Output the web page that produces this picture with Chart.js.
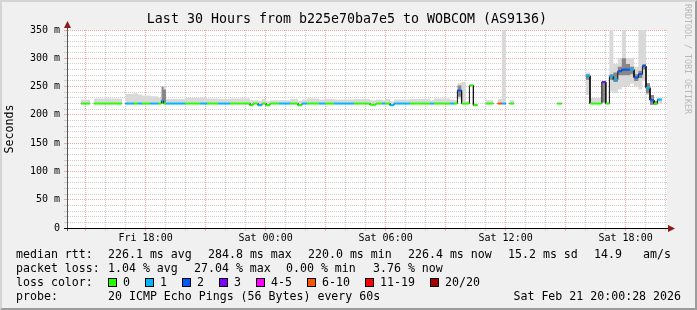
<!DOCTYPE html>
<html><head><meta charset="utf-8">
<script src="https://cdn.jsdelivr.net/npm/chart.js@4/dist/chart.umd.min.js"></script>
<style>
html,body{margin:0;padding:0;background:#f0f0f0;}
#wrap{position:relative;width:697px;height:310px;overflow:hidden;background:#f0f0f0;font-family:'DejaVu Sans Mono',monospace;color:#000;}
#c{position:absolute;left:0;top:0;}
.t{position:absolute;white-space:pre;font-size:11.6px;line-height:14px;}
.title{position:absolute;top:11px;left:347px;transform:translateX(-50%);white-space:pre;font-size:13.3px;line-height:16px;}
.box{position:absolute;width:7px;height:7px;border:1px solid #000;top:278px;}
.wm{position:absolute;left:683px;top:4px;writing-mode:vertical-rl;font-size:8.3px;line-height:10px;color:#b8b8b8;white-space:pre;}
.frame{position:absolute;left:0;top:0;width:697px;height:310px;box-sizing:border-box;border-style:solid;border-width:2px;border-color:#d4d4d4 #9c9c9c #9c9c9c #d4d4d4;pointer-events:none;}
</style></head>
<body>
<div id="wrap">
<canvas id="c" width="697" height="310" style="width:697px;height:310px"></canvas>
<div class="title">Last 30 Hours from b225e70ba7e5 to WOBCOM (AS9136)</div>
<div class="wm">RRDTOOL / TOBI OETIKER</div>
<div id="legend"></div>
<div class="frame"></div>
</div>
<script>
// ---- data ----
// time axis in hours (Fri 00:00 = 0); window: Fri 14:04 .. Sat 20:04
const xMin = 14.07, xMax = 44.07;
const xLabelHours = [18, 24, 30, 36, 42];
const xTickLabels = ['Fri 18:00', 'Sat 00:00', 'Sat 06:00', 'Sat 12:00', 'Sat 18:00'];
const yLabelValues = [0, 50, 100, 150, 200, 250, 300, 350];
const yTickLabels = ['0', '50 m', '100 m', '150 m', '200 m', '250 m', '300 m', '350 m'];

const segStart = [14.77,15.41,16.99,17.41,17.61,17.82,18.24,18.61,18.79,18.89,19.02,19.97,20.72,21.07,21.62,22.22,23.22,23.37,23.62,23.82,24.02,24.22,24.67,25.22,25.62,25.82,26.07,26.67,26.97,27.42,28.42,29.22,29.52,29.82,29.97,30.22,30.42,31.22,32.22,32.42,33.22,33.42,33.59,33.80,34.02,34.19,34.39,35.01,35.60,35.81,36.19,38.57,40.01,40.22,40.81,41.01,41.19,41.39,41.61,41.81,42.02,42.22,42.42,42.64,42.84,43.02,43.22,43.42,43.59];
const segEnd   = [15.22,16.82,17.41,17.61,17.82,18.24,18.61,18.79,18.89,19.02,19.97,20.72,21.07,21.62,22.22,23.22,23.37,23.62,23.82,24.02,24.22,24.67,25.22,25.62,25.82,26.07,26.67,26.97,27.42,28.42,29.22,29.52,29.82,29.97,30.22,30.42,31.22,32.22,32.42,33.22,33.42,33.59,33.80,34.02,34.19,34.39,34.60,35.39,35.81,36.01,36.42,38.81,40.22,40.81,41.01,41.19,41.39,41.61,41.81,42.02,42.22,42.42,42.64,42.84,43.02,43.22,43.42,43.59,43.82];
const medianMs = [220,220,220,220,220,220,220,220,225,220,220,220,220,220,220,220,217,220,217,220,217,220,220,220,217,220,220,220,220,220,220,218,220,220,220,217,220,220,220,220,220,220,243,220,220,252,217,220,220,220,220,220,269,220,258,220,268,262,277,280,280,280,266,272,286,248,226,220,227];
const lossIdx  = [0,0,1,0,1,0,1,0,1,0,1,0,1,0,1,0,0,0,1,0,0,0,1,0,0,1,0,1,0,1,0,0,0,1,0,1,1,0,1,0,1,0,2,0,0,0,0,0,5,1,0,0,1,0,3,0,1,1,2,2,2,1,2,2,2,1,2,0,1];
const smokeLo  = [220,220,220,220,220,220,220,220,222,220,220,220,220,220,220,220,217,220,217,220,217,220,220,220,217,220,220,220,220,220,220,218,220,220,220,217,220,220,220,220,220,220,228,222,220,250,217,220,220,220,220,220,235,220,222,220,241,238,245,250,250,255,250,245,260,235,218,218,220];
const smokeHi  = [227,229,237,238,236,234,233,230,250,250,228,230,231,229,228,229,226,226,225,228,224,226,226,228,225,227,229,227,228,227,228,226,227,226,228,224,227,228,226,229,227,226,256,258,224,253,222,226,228,352,226,221,275,230,258,222,352,290,300,352,300,300,285,352,352,256,235,224,230];
const darkLo   = [null,null,null,null,null,null,null,null,222,221,null,null,null,null,null,null,null,null,null,null,null,null,null,null,null,null,null,null,null,null,null,null,null,null,null,null,null,null,null,null,null,null,232,null,null,null,null,null,null,null,null,null,262,null,222,null,262,258,270,270,270,272,260,265,280,238,218,218,null];
const darkHi   = [null,null,null,null,null,null,null,null,250,245,null,null,null,null,null,null,null,null,null,null,null,null,null,null,null,null,null,null,null,null,null,null,null,null,null,null,null,null,null,null,null,null,252,null,null,null,null,null,null,null,null,null,272,null,258,null,272,275,285,300,290,285,272,278,290,256,235,224,null];

const lossColors = ['#26ff00','#00b8ff','#0059ff','#7e00ff','#ff00ff','#ff5500','#ff0000','#a00000'];
const lossLabels = ['0','1','2','3','4-5','6-10','11-19','20/20'];

// ---- helpers ----
function buildPoints(vals) {
  const pts = [];
  for (let i = 0; i < segStart.length; i++) {
    if (i > 0 && segStart[i] !== segEnd[i - 1]) pts.push({x: (segEnd[i - 1] + segStart[i]) / 2, y: null});
    const v = vals[i];
    if (v == null) { pts.push({x: (segStart[i] + segEnd[i]) / 2, y: null}); continue; }
    pts.push({x: segStart[i], y: v, c: lossIdx[i]});
    pts.push({x: segEnd[i], y: v, c: lossIdx[i]});
  }
  return pts;
}
const hourTicks = [];
for (let h = Math.ceil(xMin); h <= Math.floor(xMax); h++) hourTicks.push(h);
const yGrid = [];
for (let v = 0; v <= 350; v += 10) yGrid.push(v);

const FONT = "'DejaVu Sans Mono', monospace";
const MAJOR = '#eea8a8', MINOR = '#cfcfcf';
const clear = 'rgba(0,0,0,0)';

const deco = {
  id: 'deco',
  beforeDraw(chart) {
    const {ctx, chartArea: a} = chart;
    ctx.save(); ctx.fillStyle = '#fff';
    ctx.fillRect(a.left, a.top, a.right - a.left, a.bottom - a.top);
    ctx.restore();
  },
  afterDraw(chart) {
    const {ctx, chartArea: a} = chart;
    ctx.save();
    ctx.lineWidth = 1;
    ctx.strokeStyle = '#555';
    ctx.beginPath(); ctx.moveTo(Math.round(a.left) + 0.5, a.bottom + 3); ctx.lineTo(Math.round(a.left) + 0.5, a.top - 5); ctx.stroke();
    ctx.strokeStyle = '#000';
    ctx.beginPath(); ctx.moveTo(a.left - 3, Math.round(a.bottom) + 0.5); ctx.lineTo(a.right + 5, Math.round(a.bottom) + 0.5); ctx.stroke();
    ctx.fillStyle = '#8b1a1a';
    const lx = Math.round(a.left) + 0.5, ty = a.top - 9;
    ctx.beginPath(); ctx.moveTo(lx, ty); ctx.lineTo(lx - 3.5, ty + 7); ctx.lineTo(lx + 3.5, ty + 7); ctx.closePath(); ctx.fill();
    const by = Math.round(a.bottom) + 0.5, rx = a.right + 8;
    ctx.beginPath(); ctx.moveTo(rx, by); ctx.lineTo(rx - 7, by - 3.5); ctx.lineTo(rx - 7, by + 3.5); ctx.closePath(); ctx.fill();
    ctx.restore();
  }
};

const lineBase = {pointRadius: 0, pointHoverRadius: 0, spanGaps: false, tension: 0};

new Chart(document.getElementById('c'), {
  type: 'line',
  data: {
    datasets: [
      Object.assign({}, lineBase, {
        data: buildPoints(medianMs), borderWidth: 2, borderColor: lossColors[0], borderCapStyle: 'butt', fill: false, order: 0,
        segment: {
          borderColor: ctx => {
            if (Math.abs(ctx.p0.x - ctx.p1.x) < 0.01) return clear;
            const d = ctx.chart.data.datasets[ctx.datasetIndex].data[ctx.p0DataIndex];
            return lossColors[d.c];
          }
        }
      }),
      Object.assign({}, lineBase, {data: buildPoints(medianMs), borderWidth: 1, borderColor: '#111', fill: false, order: 1}),
      Object.assign({}, lineBase, {data: buildPoints(darkLo), borderWidth: 1, borderColor: clear, fill: false, order: 2}),
      Object.assign({}, lineBase, {data: buildPoints(darkHi), borderWidth: 1, borderColor: clear, fill: '-1', backgroundColor: '#888888', order: 2}),
      Object.assign({}, lineBase, {data: buildPoints(smokeLo), borderWidth: 1, borderColor: clear, fill: false, order: 3}),
      Object.assign({}, lineBase, {data: buildPoints(smokeHi), borderWidth: 1, borderColor: clear, fill: '-1', backgroundColor: '#d9d9d9', order: 3})
    ]
  },
  options: {
    responsive: false, animation: false, devicePixelRatio: 1,
    layout: {padding: {left: 0, right: 30, top: 30, bottom: 62}},
    plugins: {legend: {display: false}, tooltip: {enabled: false}, title: {display: false}},
    scales: {
      x: {
        type: 'linear', min: xMin, max: xMax,
        afterBuildTicks: s => { s.ticks = hourTicks.map(v => ({value: v})); },
        afterFit: s => { s.height = 20; },
        ticks: {
          autoSkip: false, maxRotation: 0, minRotation: 0, padding: 1, color: '#000',
          font: {family: FONT, size: 10},
          callback: v => { const i = xLabelHours.indexOf(v); return i >= 0 ? xTickLabels[i] : ''; }
        },
        grid: {color: c => (c.tick && c.tick.value % 3 === 0) ? MAJOR : MINOR, lineWidth: 1, tickLength: 3, drawTicks: true},
        border: {display: true, color: '#000', width: 1, dash: [1, 1]}
      },
      y: {
        type: 'linear', min: 0, max: 350,
        afterBuildTicks: s => { s.ticks = yGrid.map(v => ({value: v})); },
        afterFit: s => { s.width = 67; },
        ticks: {
          autoSkip: false, padding: 4, color: '#000',
          font: {family: FONT, size: 10},
          callback: v => { const i = yLabelValues.indexOf(v); return i >= 0 ? yTickLabels[i] : ''; }
        },
        grid: {color: c => (c.tick && c.tick.value % 50 === 0) ? MAJOR : MINOR, lineWidth: 1, tickLength: 3, drawTicks: true},
        border: {display: true, color: '#555', width: 1, dash: [1, 1]},
        title: {display: true, text: 'Seconds', color: '#000', font: {family: FONT, size: 11.6}, padding: {top: 3, bottom: 0}}
      }
    }
  },
  plugins: [deco]
});

// ---- legend text (HTML) ----
const legend = document.getElementById('legend');
function txt(s, x, yc) {
  const d = document.createElement('div');
  d.className = 't'; d.textContent = s;
  d.style.left = x + 'px'; d.style.top = (yc - 7) + 'px';
  legend.appendChild(d);
  return d;
}
const rttParts = [['median rtt:',16],['226.1 ms avg',108],['284.8 ms max',208],['220.0 ms min',308],['226.4 ms now',408],['15.2 ms sd',508],['14.9',594],['am/s',643]];
rttParts.forEach(p => txt(p[0], p[1], 254));
const lossParts = [['packet loss:',16],['1.04 % avg',108],['27.04 % max',194],['0.00 % min',286],['3.76 % now',373]];
lossParts.forEach(p => txt(p[0], p[1], 268));
txt('loss color:', 16, 282);
const boxX = [108,145,182,219,256,307,365,430];
lossLabels.forEach((l, i) => {
  const b = document.createElement('div');
  b.className = 'box'; b.style.left = boxX[i] + 'px'; b.style.background = lossColors[i];
  legend.appendChild(b);
  txt(l, boxX[i] + 15, 282);
});
txt('probe:', 16, 296);
txt('20 ICMP Echo Pings (56 Bytes) every 60s', 108, 296);
const dt = txt('Sat Feb 21 20:00:28 2026', 0, 296);
dt.style.left = ''; dt.style.right = '16px';
</script>
</body></html>
